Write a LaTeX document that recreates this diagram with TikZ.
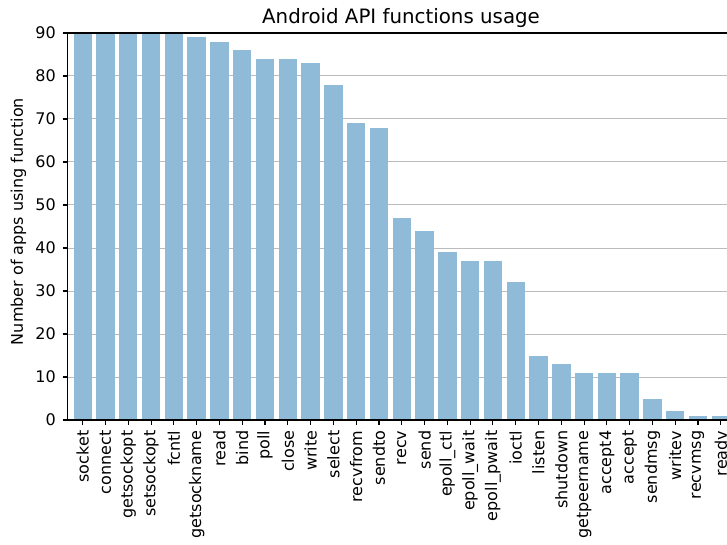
\documentclass[tikz,border=0pt]{standalone}
\usepackage{fontspec}
\setmainfont{DejaVu Sans}
\definecolor{barblue}{RGB}{143,187,217}
\definecolor{gridgray}{RGB}{188,188,188}
\begin{document}
\begin{tikzpicture}[x=1pt,y=-1pt,
    gridline/.style={draw=gridgray,line width=1pt},
    spine/.style={draw=black,line width=1.1pt,line cap=rect},
    tickmark/.style={draw=black,line width=1.1pt},
    barfill/.style={fill=barblue},
    ticklabel/.style={inner sep=0pt,font=\fontsize{16}{19}\selectfont},
    titlelabel/.style={inner sep=0pt,font=\fontsize{19.8}{23}\selectfont}]
\useasboundingbox (0,0) rectangle (727,545);
\clip (0,0) rectangle (727,545);
\fill[white] (0,0) rectangle (727,545);
% horizontal grid behind the bars
\foreach \v in {10,20,...,80}
  \draw[gridline] (67.5,420-4.3*\v) -- (734.5,420-4.3*\v);
% bars, x ticks and their labels
\foreach \name/\val [count=\i from 0] in {socket/90,connect/90,getsockopt/90,setsockopt/90,fcntl/90,getsockname/89,read/88,bind/86,poll/84,close/84,write/83,select/78,recvfrom/69,sendto/68,recv/47,send/44,epoll\_ctl/39,epoll\_wait/37,epoll\_pwait/37,ioctl/32,listen/15,shutdown/13,getpeername/11,accept4/11,accept/11,sendmsg/5,writev/2,recvmsg/1,readv/1}{
  \pgfmathsetmacro\cx{82.7+22.79*\i}
  \fill[barfill] (\cx-9.2,420) rectangle (\cx+9.2,420-4.3*\val);
  \draw[tickmark] (\cx,420) -- (\cx,424.9);
  \node[ticklabel,rotate=90,anchor=east] (xl\i) at (\cx,430.5) {\name};
}
% y ticks and labels
\foreach \v in {0,10,...,90}{
  \draw[tickmark] (62.6,420-4.3*\v) -- (67.5,420-4.3*\v);
  \node[ticklabel,anchor=east] (yl\v) at (56,420-4.3*\v) {\v};
}
% axes frame
\draw[spine] (67.5,33) -- (67.5,420);
\draw[spine] (67.5,420) -- (734.5,420);
\draw[spine] (67.5,33) -- (734.5,33);
% axis label and title
\node[ticklabel,rotate=90] (ylabel) at (18.5,221.5) {Number of apps using function};
\node[titlelabel,anchor=base] (title) at (401,24) {Android API functions usage};
\end{tikzpicture}
\end{document}
